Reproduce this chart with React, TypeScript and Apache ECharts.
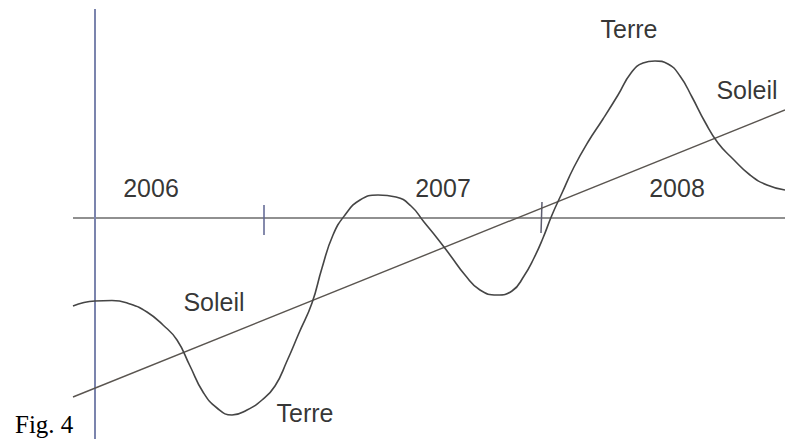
import React, { useEffect, useRef } from "react";
import * as echarts from "echarts";

// Sketch units: x = horizontal position, y = height above the time axis
const terreX = [73, 95, 112, 130, 147, 163, 177, 190, 203, 217, 232, 247, 262, 275, 287, 299, 312, 322, 333, 345, 360, 378, 396, 411, 424, 437, 450, 465, 480, 497, 512, 524, 534, 543, 552, 562, 574, 588, 603, 618, 631, 643, 655, 668, 680, 692, 705, 718, 733, 750, 767, 785];
const terreY = [-88, -83, -82.5, -86, -94, -107, -122, -148, -174, -190, -197, -192, -182, -168, -143, -115, -85, -50, -17, 3, 18, 23, 21, 12, -4, -20, -37, -57, -72, -77, -73, -58, -40, -20, 3, 25, 51, 76, 99, 123, 145, 155, 157, 154, 142, 121, 96, 75, 59, 43, 33, 28];

const soleilX = [73, 785];
const soleilY = [-179, 108];

const axisX = [73, 785];
const axisY = [0, 0];

const originX = [95, 95];
const originY = [209, -221];

const tick1X = [264, 264];
const tick1Y = [13, -17];
const tick2X = [542, 541];
const tick2Y = [16, -15];

const labelTexts = ["2006", "2007", "2008", "Terre", "Soleil", "Soleil", "Terre"];
const labelX = [151, 443, 677, 629, 747, 214, 305];
const labelY = [30.5, 30.5, 30.5, 189, 128, -84, -195];

const zip = (xs: number[], ys: number[]) => xs.map((x, i) => [x, ys[i]]);

export default function App() {
  const ref = useRef<HTMLDivElement>(null);
  useEffect(() => {
    if (!ref.current) return;
    const chart = echarts.init(ref.current, null, { renderer: "svg" });
    const lineSeries = (data: number[][], color: string, width: number, smooth: number | boolean = false) => ({
      type: "line",
      data,
      smooth,
      symbol: "none",
      silent: true,
      lineStyle: { color, width },
      z: 2,
    });
    chart.setOption({
      animation: false,
      backgroundColor: "#ffffff",
      grid: { left: 0, right: 0, top: 0, bottom: 0, containLabel: false },
      xAxis: { type: "value", min: 0, max: 785, show: false },
      yAxis: { type: "value", min: -221, max: 218, show: false },
      title: {
        text: "Fig. 4",
        left: 10,
        top: 406,
        textStyle: { fontFamily: "Liberation Serif", fontSize: 25, lineHeight: 26, fontWeight: "normal", color: "#000" },
      },
      series: [
        lineSeries(zip(axisX, axisY), "#6b6b6b", 1.5),
        lineSeries(zip(originX, originY), "#7b84ad", 2),
        lineSeries(zip(tick1X, tick1Y), "#5d6390", 1.5),
        lineSeries(zip(tick2X, tick2Y), "#5d5d70", 1.5),
        lineSeries(zip(soleilX, soleilY), "#5a5550", 1.4),
        lineSeries(zip(terreX, terreY), "#454545", 1.6, 0.5),
        {
          type: "scatter",
          silent: true,
          symbolSize: 0,
          itemStyle: { color: "transparent" },
          data: labelTexts.map((t, i) => ({ name: t, value: [labelX[i], labelY[i]] })),
          label: {
            show: true,
            position: "inside",
            formatter: (p: any) => p.name,
            fontFamily: "Liberation Sans",
            fontSize: 25,
            color: "#000",
          },
          z: 5,
        },
      ],
    });
    return () => chart.dispose();
  }, []);
  return <div ref={ref} style={{ position: "absolute", left: 0, top: 0, width: 785, height: 439 }} />;
}
